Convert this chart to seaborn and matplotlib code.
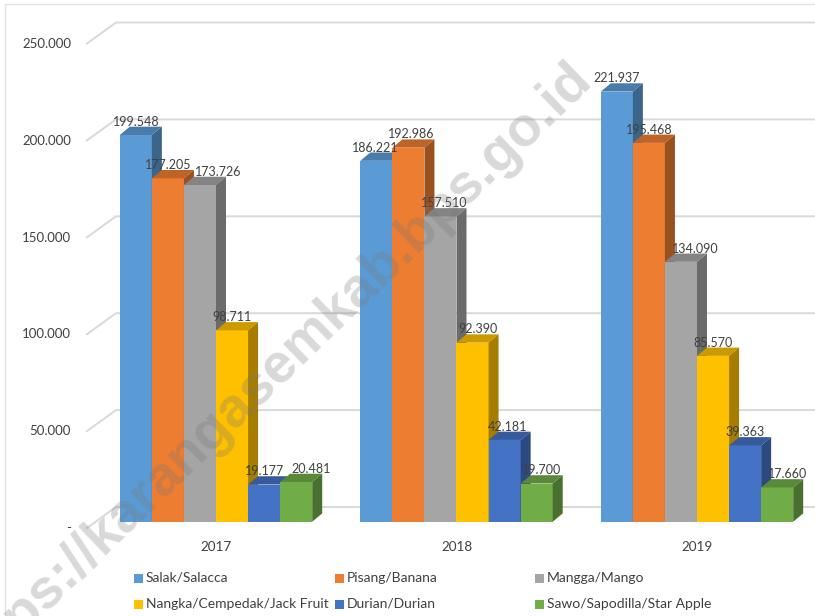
import numpy as np
import pandas as pd
import matplotlib
matplotlib.use('Agg')
import matplotlib.pyplot as plt
from matplotlib.patches import Polygon, Rectangle
from matplotlib.lines import Line2D
import seaborn as sns

years = ['2017', '2018', '2019']
fruits = ['Salak/Salacca', 'Pisang/Banana', 'Mangga/Mango',
          'Nangka/Cempedak/Jack Fruit', 'Durian/Durian', 'Sawo/Sapodilla/Star Apple']
salak = [199548, 186221, 221937]
pisang = [177205, 192986, 195468]
mangga = [173726, 157510, 134090]
nangka = [98711, 92390, 85570]
durian = [19177, 42181, 39363]
sawo = [20481, 19700, 17660]
colors = ['#5B9BD5', '#ED7D31', '#A5A5A5', '#FFC000', '#4472C4', '#70AD47']
yticks = [0, 50000, 100000, 150000, 200000, 250000]
ytick_labels = ['-', '50.000', '100.000', '150.000', '200.000', '250.000']

series = [salak, pisang, mangga, nangka, durian, sawo]
df = pd.DataFrame([(y, f, s[j]) for f, s in zip(fruits, series) for j, y in enumerate(years)],
                  columns=['year', 'fruit', 'value'])

W, H = 815, 616
sns.set_theme(style='white')
plt.rcParams['font.family'] = ['Lato', 'DejaVu Sans']
txt = '#404040'

fig = plt.figure(figsize=(W / 100, H / 100), dpi=100)
ax = fig.add_axes([0, 0, 1, 1])
sns.barplot(data=df, x='year', y='value', hue='fruit', order=years, hue_order=fruits,
            palette=colors, saturation=1, width=0.8, legend=False, linewidth=0, ax=ax)

# pixel -> data scale (ax fills the figure)
sx = 1 / 240.5
sy = 516.0
x0px, y0px = 216, 521.7
ax.set_xlim(-x0px * sx, (W - x0px) * sx)
ax.set_ylim(-(H - y0px) * sy, y0px * sy)
ax.axis('off')

# back wall gridlines + side wall ticks
wf, wb = (86.7 - x0px) * sx, (116 - x0px) * sx
front_dy, back_dy = -6.5 * sy, 14.7 * sy
for v, lab in zip(yticks, ytick_labels):
    ax.plot([wf, wb, (W - x0px) * sx], [v + front_dy, v + back_dy, v + back_dy],
            color='#D9D9D9', lw=1.4, zorder=1)
    ax.text((71 - x0px) * sx, v + front_dy, lab, ha='right', va='center',
            fontsize=9.5, color=txt)

for j, y in enumerate(years):
    ax.text(j, (y0px - 547) * sy, y, ha='center', va='center', fontsize=9.7, color=txt)

# fake 3d depth
DX, DY = 10 * sx, 8.3 * sy
nudge = {(2, 0): 18, (5, 0): 15, (2, 2): 14, (5, 2): 10,
         (0, 1): -1, (1, 1): 3, (2, 1): 4, (3, 1): 5, (4, 1): 3, (5, 1): 5}
for i, cont in enumerate(ax.containers):
    c = np.array(matplotlib.colors.to_rgb(colors[i]))
    z = 3 + i
    for j, p in enumerate(cont.patches):
        p.set_zorder(z)
        x, w, h = p.get_x(), p.get_width(), p.get_height()
        ax.add_patch(Polygon([(x, h), (x + DX, h + DY), (x + w + DX, h + DY), (x + w, h)],
                             closed=True, fc=c * 0.8, ec='none', zorder=z))
        ax.add_patch(Polygon([(x + w, 0), (x + w + DX, DY), (x + w + DX, h + DY), (x + w, h)],
                             closed=True, fc=c * 0.65, ec='none', zorder=z))
        ax.text(x + w / 2 + nudge.get((i, j), 0) * sx, h + DY + 5 * sy,
                f'{int(h):,}'.replace(',', '.'), ha='center', va='center',
                fontsize=9, color=txt, zorder=20)

# legend, 3 columns x 2 rows
col_x = [134, 335, 535]
row_y = [578, 604]
for k, f in enumerate(fruits):
    r, cc = k // 3, k % 3
    fig.add_artist(Rectangle((col_x[cc] / W, 1 - (row_y[r] + 4.5) / H), 9 / W, 9 / H,
                             transform=fig.transFigure, color=colors[k], lw=0))
    fig.text((col_x[cc] + 12) / W, 1 - row_y[r] / H, f, va='center', fontsize=10, color=txt)

# chart frame
fig.add_artist(Line2D([5 / W, 5 / W, 1], [0, 1 - 4 / H, 1 - 4 / H],
                      transform=fig.transFigure, color='#E3E3E3', lw=1))

# watermark
fig.text(272 / W, 1 - 372 / H, 'https://karangasemkab.bps.go.id', rotation=44,
         rotation_mode='anchor', ha='center', va='center', fontsize=40,
         fontweight='bold', family='Liberation Sans', color='#777777', alpha=0.28, zorder=30)

fig.savefig('out.png', dpi=100)
